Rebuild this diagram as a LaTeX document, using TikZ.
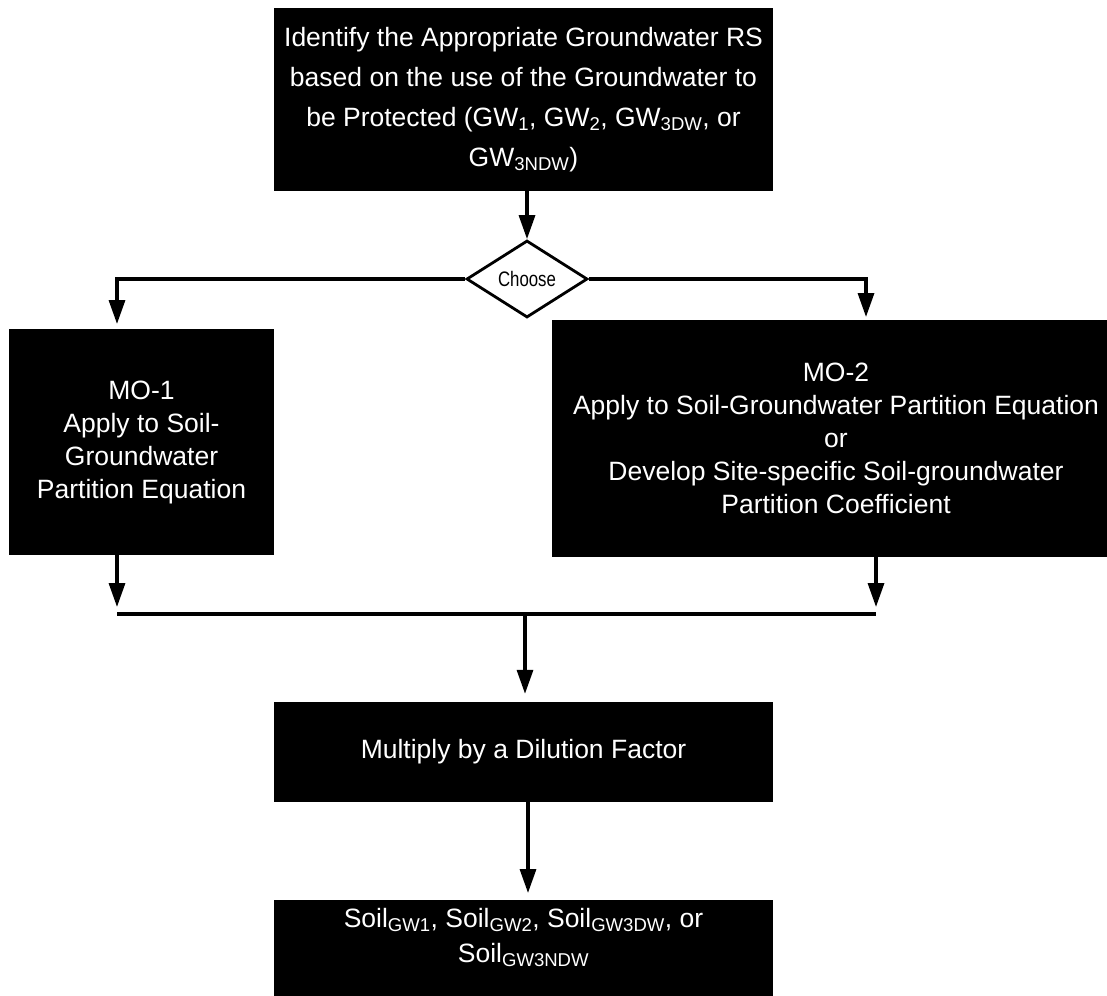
\documentclass[tikz,border=0pt]{standalone}
\usepackage{fontspec}
\setmainfont{Liberation Sans}
\usetikzlibrary{arrows.meta,shapes.geometric}

\begin{document}
\begin{tikzpicture}[x=1pt,y=-1pt,
  blackbox/.style={draw=none,fill=black,text=white,inner sep=0pt,align=center,
    font=\fontsize{26.5}{33}\selectfont},
  conn/.style={line width=3.3pt,draw=black},
  arr/.style={conn,-{Triangle[width=16pt,length=24pt]}},
  decision/.style={diamond,draw=black,line width=2.8pt,fill=white,inner sep=0pt,
    minimum width=121pt,minimum height=77pt}
]
\useasboundingbox (0,0) rectangle (1107,995);

% boxes
\node[blackbox,minimum width=499pt,minimum height=183pt,
  font=\fontsize{26.5}{40}\selectfont] (top) at (523.5,99.5)
  {Identify the Appropriate Groundwater RS\\
   based on the use of the Groundwater to\\
   be Protected (GW\textsubscript{1}, GW\textsubscript{2}, GW\textsubscript{3DW}, or\\
   GW\textsubscript{3NDW})};

\node[decision] (choose) at (527,279)
  {\fontsize{21}{24}\selectfont\scalebox{0.8}[1]{Choose}};

\node[blackbox,minimum width=265pt,minimum height=226pt] (mo1) at (141.5,442)
  {MO-1\\Apply to Soil-\\Groundwater\\Partition Equation};

\node[blackbox,minimum width=568pt,minimum height=237pt] (mo2) at (836,438.5)
  {MO-2\\Apply to Soil-Groundwater Partition Equation\\or\\
   Develop Site-specific Soil-groundwater\\Partition Coefficient};

\node[blackbox,minimum width=499pt,minimum height=100pt] (mult) at (523.5,752)
  {Multiply by a Dilution Factor};

\node[blackbox,minimum width=499pt,minimum height=100pt,anchor=north] (final) at (523.5,900) {};
\node[text=white,align=center,inner sep=0pt,font=\fontsize{26.5}{35}\selectfont] (finaltxt) at (523.5,937.5)
  {Soil\textsubscript{GW1}, Soil\textsubscript{GW2}, Soil\textsubscript{GW3DW}, or\\
   Soil\textsubscript{GW3NDW}};

% connector points
\coordinate (mo1in) at (117,329);
\coordinate (mo2in) at (866,320);
\coordinate (mo1out) at (117,555);
\coordinate (mo2out) at (876,557);
\coordinate (mergeL) at (117,614);
\coordinate (mergeR) at (876,614);
\coordinate (mergeC) at (525,614);
\coordinate (multout) at (528,802);

% connectors
\draw[arr] (choose.north |- top.south) -- (choose.north);
\draw[arr,shorten >=5pt] (choose.west) -| (mo1in);
\draw[arr,shorten >=3pt] (choose.east) -| (mo2in);
\draw[arr,shorten >=7pt] (mo1out) -- (mergeL);
\draw[arr,shorten >=7pt] (mo2out) -- (mergeR);
\draw[conn] (mergeL) -- (mergeR);
\draw[arr,shorten >=8pt] (mergeC) -- (mergeC |- mult.north);
\draw[arr,shorten >=7pt] (multout) -- (multout |- final.north);
\end{tikzpicture}
\end{document}
